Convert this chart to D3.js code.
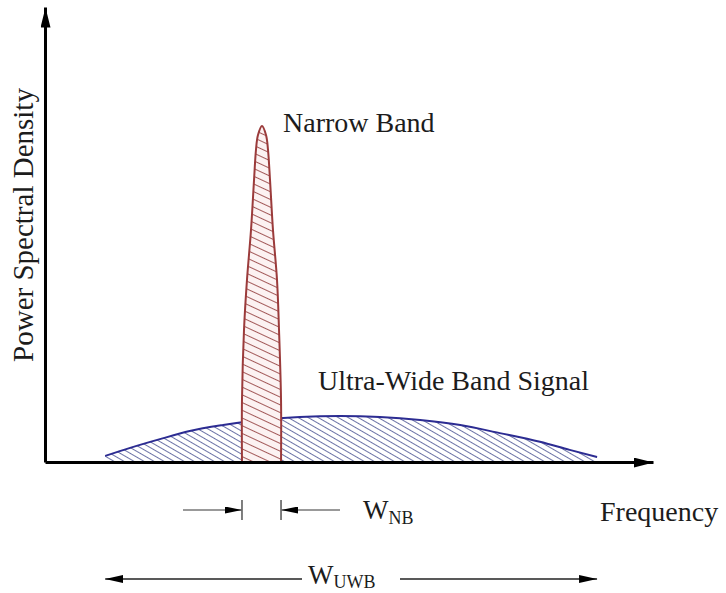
<!DOCTYPE html>
<html><head><meta charset="utf-8">
<script src="https://cdn.jsdelivr.net/npm/d3@7"></script>
<style>
body{margin:0;background:#fff}
text{font-family:"Liberation Serif","Times New Roman",serif;fill:#1c1c1c}
</style>
</head><body><svg id="c" width="726" height="593"></svg>
<script>
// ---- data (arbitrary frequency units 0-100, normalised PSD 0-1) ----
const uwbFreq = [9.9,14.0,18.9,23.8,29.3,35.4,41.9,48.5,55.1,61.7,68.3,74.8,81.4,86.3,90.8];
const uwbPsd  = [0.018,0.042,0.068,0.092,0.110,0.125,0.134,0.137,0.134,0.125,0.110,0.086,0.060,0.036,0.015];
const nbFreq  = [32.4,32.4,32.73,33.22,33.88,34.38,34.70,35.03,35.69,36.35,36.68,37.01,37.5,38.16,38.49,38.82,38.82];
const nbPsd   = [0,0.185,0.393,0.542,0.690,0.839,0.929,0.973,1,0.973,0.929,0.839,0.690,0.542,0.393,0.185,0];
const axisTitles = ["Frequency","Power Spectral Density"];
const seriesLabels = ["Narrow Band","Ultra-Wide Band Signal"];
const widthLabels = [["W","NB"],["W","UWB"]];

const svg = d3.select("#c");
const x = d3.scaleLinear().domain([0,100]).range([45,653]);
const y = d3.scaleLinear().domain([0,1]).range([462,126]);
const yAxisScale = d3.scaleLinear().domain([0, y.invert(7)]).range([462,7]);

const defs = svg.append("defs");
function hatch(id, color, d, angle, bg){
  const p = defs.append("pattern").attr("id",id).attr("patternUnits","userSpaceOnUse")
    .attr("width",20).attr("height",d).attr("patternTransform",`rotate(${angle})`);
  if(bg) p.append("rect").attr("width",20).attr("height",d).attr("fill",bg);
  p.append("line").attr("x1",0).attr("x2",20).attr("y1",d/2).attr("y2",d/2)
    .attr("stroke",color).attr("stroke-width",1);
}
hatch("hUwb","#6b72a6",5,30,null);
hatch("hNb","#a35a5a",7,25,"#fcf2f2");

function marker(id,len,h,color){
  defs.append("marker").attr("id",id).attr("viewBox",`0 0 ${len} ${h}`)
    .attr("markerWidth",len).attr("markerHeight",h).attr("refX",len).attr("refY",h/2)
    .attr("markerUnits","userSpaceOnUse").attr("orient","auto")
    .append("path").attr("d",`M0,0L${len},${h/2}L0,${h}Z`).attr("fill",color);
}
marker("axHead",20,10,"#000");
marker("dimHead",17,7,"#000");
marker("uwbHead",18,8,"#000");

const uwb = uwbFreq.map((f,i)=>({f,p:uwbPsd[i]}));
const nb = nbFreq.map((f,i)=>({f,p:nbPsd[i]}));

// UWB area + curve
svg.append("path").datum(uwb)
  .attr("d", d3.area().x(d=>x(d.f)).y0(y(0)).y1(d=>y(d.p)).curve(d3.curveMonotoneX))
  .attr("fill","url(#hUwb)");
svg.append("path").datum(uwb)
  .attr("d", d3.line().x(d=>x(d.f)).y(d=>y(d.p)).curve(d3.curveMonotoneX))
  .attr("fill","none").attr("stroke","#2c2c92").attr("stroke-width",2);

// Narrow band
const nbLine = d3.line().x(d=>x(d.f)).y(d=>y(d.p)).curve(d3.curveCatmullRom.alpha(0.5));
svg.append("path").datum(nb).attr("d",nbLine).attr("fill","url(#hNb)");
svg.append("path").datum(nb).attr("d",nbLine)
  .attr("fill","none").attr("stroke","#9b3b3b").attr("stroke-width",2);

// axes
const gx = svg.append("g").attr("transform",`translate(0,${y(0)})`)
  .call(d3.axisBottom(x).tickValues([]).tickSizeOuter(0));
gx.select(".domain").attr("stroke","#000").attr("stroke-width",3).attr("marker-end","url(#axHead)");
const gy = svg.append("g").attr("transform",`translate(${x(0)},0)`)
  .call(d3.axisLeft(yAxisScale).tickValues([]).tickSizeOuter(0));
gy.select(".domain").attr("stroke","#000").attr("stroke-width",3).attr("marker-end","url(#axHead)");

// labels
svg.append("text").attr("x",600).attr("y",521).attr("font-size",28).text(axisTitles[0]);
svg.append("text").attr("transform","translate(33,225) rotate(-90)").attr("text-anchor","middle")
  .attr("font-size",29).text(axisTitles[1]);
svg.append("text").attr("x",283).attr("y",132).attr("font-size",28).text(seriesLabels[0]);
svg.append("text").attr("x",318).attr("y",390).attr("font-size",28).text(seriesLabels[1]);

// W_NB dimension
const nbL = x(nbFreq[0]), nbR = x(nbFreq[nbFreq.length-1]);
const dimY = 510;
[nbL, nbR].forEach(px=>svg.append("line").attr("x1",px).attr("x2",px).attr("y1",dimY-10).attr("y2",dimY+10)
  .attr("stroke","#555").attr("stroke-width",1.5));
svg.append("line").attr("x1",nbL-59).attr("x2",nbL).attr("y1",dimY).attr("y2",dimY)
  .attr("stroke","#777").attr("stroke-width",1.5).attr("marker-end","url(#dimHead)");
svg.append("line").attr("x1",nbR+59).attr("x2",nbR).attr("y1",dimY).attr("y2",dimY)
  .attr("stroke","#777").attr("stroke-width",1.5).attr("marker-end","url(#dimHead)");
const t1 = svg.append("text").attr("x",363).attr("y",519).attr("font-size",27);
t1.append("tspan").text(widthLabels[0][0]);
t1.append("tspan").attr("font-size",18).attr("dy",5).text(widthLabels[0][1]);

// W_UWB dimension
const uL = x(uwbFreq[0]), uR = x(uwbFreq[uwbFreq.length-1]);
const uY = 579;
svg.append("line").attr("x1",302).attr("x2",uL).attr("y1",uY).attr("y2",uY)
  .attr("stroke","#222").attr("stroke-width",1.5).attr("marker-end","url(#uwbHead)");
svg.append("line").attr("x1",400).attr("x2",uR).attr("y1",uY).attr("y2",uY)
  .attr("stroke","#222").attr("stroke-width",1.5).attr("marker-end","url(#uwbHead)");
const t2 = svg.append("text").attr("x",308).attr("y",584).attr("font-size",27);
t2.append("tspan").text(widthLabels[1][0]);
t2.append("tspan").attr("font-size",18).attr("dy",4).text(widthLabels[1][1]);
</script></body></html>
